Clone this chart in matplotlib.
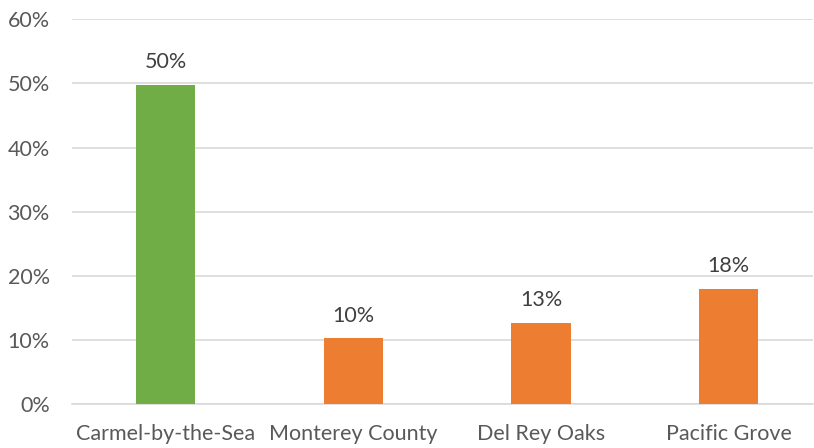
import matplotlib
matplotlib.use("Agg")
import matplotlib.pyplot as plt
from matplotlib.ticker import PercentFormatter

categories = ["Carmel-by-the-Sea", "Monterey County", "Del Rey Oaks", "Pacific Grove"]
values = [49.8, 10.3, 12.7, 18.0]
labels = ["50%", "10%", "13%", "18%"]
colors = ["#70AD47", "#ED7D31", "#ED7D31", "#ED7D31"]
yticks = [0, 10, 20, 30, 40, 50, 60]

plt.rcParams['font.family'] = ['Lato', 'DejaVu Sans']
txt = "#595959"

fig = plt.figure(figsize=(8.14, 4.48), dpi=100)
ax = fig.add_axes([72/814, 1 - 404.3/448, 741/814, (404.3-19.3)/448])
x = list(range(len(categories)))
bars = ax.bar(x, values, width=0.315, color=colors, zorder=3)
for b, lab in zip(bars, labels):
    ax.annotate(lab, (b.get_x() + b.get_width()/2, b.get_height()),
                xytext=(0, 9), textcoords="offset points",
                ha="center", va="bottom", fontsize=15.5, color="#404040")
ax.set_xlim(-0.5, 3.45)
ax.set_ylim(0, 60)
ax.set_yticks(yticks)
ax.yaxis.set_major_formatter(PercentFormatter(decimals=0))
ax.set_xticks(x)
ax.set_xticklabels(categories)
ax.grid(axis="y", color="#D9D9D9", linewidth=1.2, zorder=0)
for s in ["top", "right", "left"]:
    ax.spines[s].set_visible(False)
ax.spines["bottom"].set_color("#D9D9D9")
ax.spines["bottom"].set_linewidth(1.2)
ax.tick_params(axis="both", length=0, labelsize=15.5, colors=txt)
ax.tick_params(axis="y", pad=16)
ax.tick_params(axis="x", pad=14)
fig.savefig("out.png", dpi=100)
